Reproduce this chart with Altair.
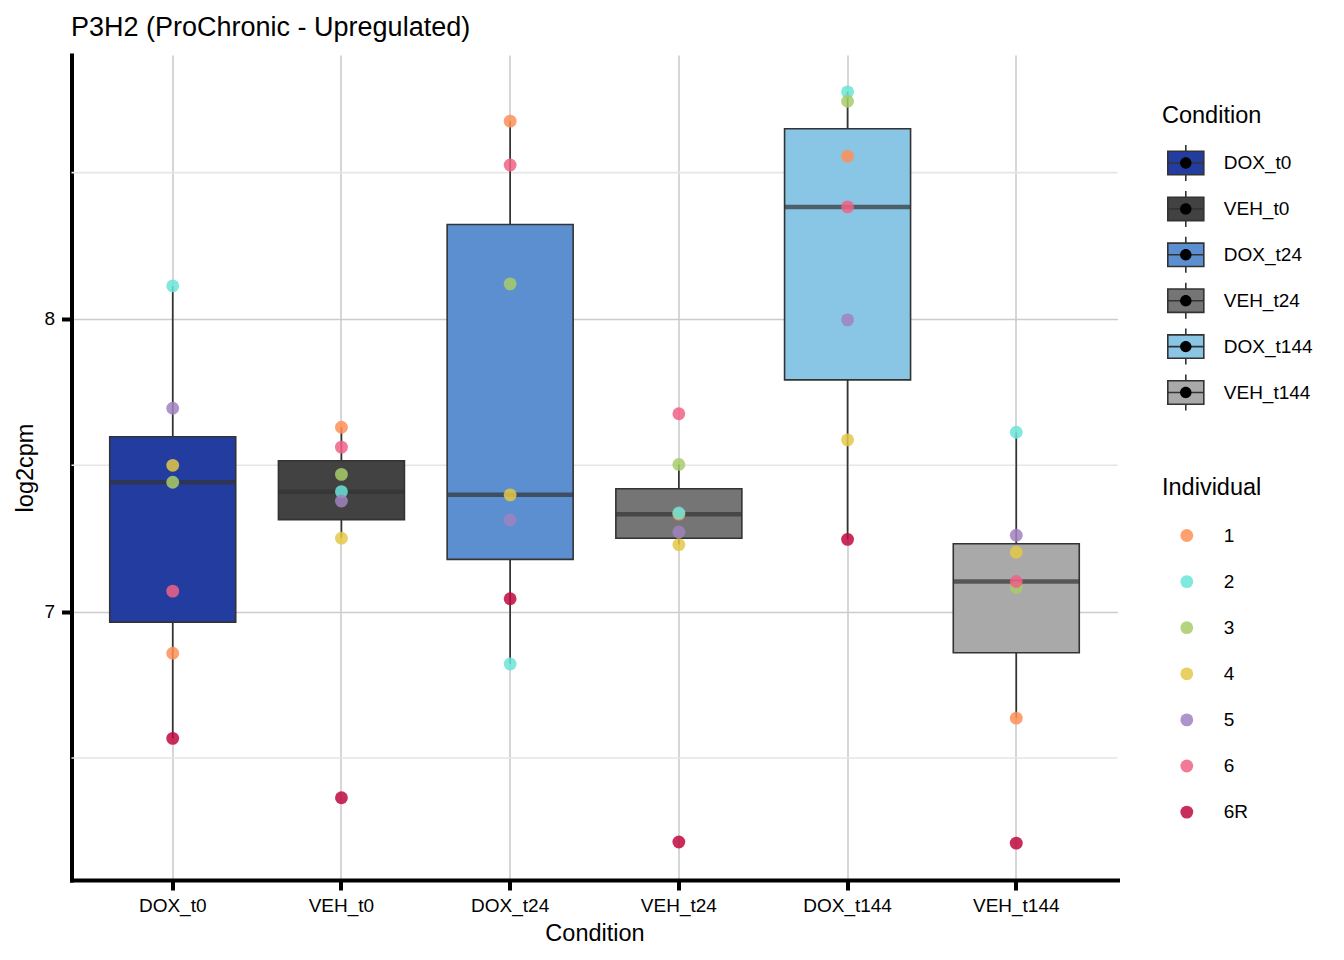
import altair as alt
import pandas as pd

# ---------------- data ----------------
conditions = ["DOX_t0", "VEH_t0", "DOX_t24", "VEH_t24", "DOX_t144", "VEH_t144"]
individuals = ["1", "2", "3", "4", "5", "6", "6R"]

# log2cpm per condition, in the order of `individuals`
dox_t0 = [6.858, 8.113, 7.442, 7.500, 7.695, 7.070, 6.567]
veh_t0 = [7.630, 7.410, 7.469, 7.251, 7.378, 7.562, 6.364]
dox_t24 = [8.676, 6.821, 8.120, 7.399, 7.313, 8.526, 7.044]
veh_t24 = [7.333, 7.337, 7.503, 7.229, 7.272, 7.676, 6.213]
dox_t144 = [8.556, 8.776, 8.744, 7.587, 7.997, 8.383, 7.247]
veh_t144 = [6.636, 7.613, 7.083, 7.203, 7.261, 7.103, 6.209]
series = [dox_t0, veh_t0, dox_t24, veh_t24, dox_t144, veh_t144]

condition_colors = ["#233CA0", "#424242", "#5B8FD0", "#757575", "#89C5E4", "#A9A9A9"]
individual_colors = ["#FF8F57", "#6AE4D6", "#A8CC6A", "#E4C846", "#A082C0", "#F06286", "#C0083F"]

y_ticks = [7, 8]
y_minor = [6.5, 7.5, 8.5]
y_domain = [6.083, 8.902]

rows = []
for cond, vals in zip(conditions, series):
    for ind, v in zip(individuals, vals):
        rows.append({"Condition": cond, "Individual": ind, "log2cpm": v})
df = pd.DataFrame(rows)
minor_df = pd.DataFrame({"v": y_minor})

# ---------------- style ----------------
FONT = "Liberation Sans"
INK = "#333333"

y_scale = alt.Scale(domain=y_domain, nice=False, zero=False)
x_scale = alt.Scale(domain=conditions, paddingInner=0, paddingOuter=0.1)

y_axis = alt.Axis(values=y_ticks, title="log2cpm", grid=True, gridColor="#cccccc", gridWidth=1.6,
                  domainColor="black", domainWidth=4, domainCap="square",
                  tickColor="black", tickWidth=4, tickSize=10,
                  labelFont=FONT, labelFontSize=19, labelColor="black", labelPadding=7,
                  titleFont=FONT, titleFontSize=23.5, titleFontWeight="normal", titleColor="black",
                  titlePadding=6)
x_axis = alt.Axis(title="Condition", labelAngle=0, grid=True, gridColor="#cccccc", gridWidth=1.6,
                  bandPosition=0.5, domainColor="black", domainWidth=4, domainCap="square",
                  tickColor="black", tickWidth=4, tickSize=10,
                  labelFont=FONT, labelFontSize=19, labelColor="black", labelPadding=6,
                  titleFont=FONT, titleFontSize=23.5, titleFontWeight="normal", titleColor="black",
                  titlePadding=6)

box_path = "M-1,-0.65L1,-0.65L1,0.65L-1,0.65Z M0,-1L0,-0.65 M0,0.65L0,1 M-1,0L1,0"
dot_path = ("M-1,0L-1,0 M1,0L1,0 M0,-1L0,-1 M0,1L0,1 "
            "M0.317,0A0.317,0.317,0,1,1,-0.317,0A0.317,0.317,0,1,1,0.317,0Z")

common = dict(orient="none", direction="vertical", columns=1, padding=0,
              labelFont=FONT, labelFontSize=19, labelColor="black",
              titleFont=FONT, titleFontSize=23.5, titleFontWeight="normal", titleColor="black")

cond_legend = alt.Legend(title="Condition", legendX=1090.5, legendY=49, symbolType=box_path,
                         symbolSize=1296, symbolStrokeColor=INK, symbolStrokeWidth=1.6,
                         symbolOffset=4.8, labelOffset=19, rowPadding=1.9, titlePadding=16.5, **common)
dot_legend = alt.Legend(title="Condition", titleOpacity=0, labelOpacity=0, legendX=1090.5, legendY=49,
                        symbolSize=1296, symbolFillColor="black", symbolStrokeColor="black",
                        symbolStrokeWidth=1.6, symbolOpacity=1,
                        symbolOffset=4.8, labelOffset=19, rowPadding=1.9, titlePadding=16.5, **common)
ind_legend = alt.Legend(title="Individual", legendX=1090.5, legendY=421, symbolType="circle",
                        symbolSize=165, symbolStrokeWidth=0, symbolOffset=15.3, labelOffset=27.5,
                        rowPadding=26.1, titlePadding=26.5, **common)

x_enc = alt.X("Condition:N", scale=x_scale, axis=x_axis)

# ---------------- layers ----------------
minor_grid = alt.Chart(minor_df).mark_rule(color="#e5e5e5", strokeWidth=1.6).encode(
    y=alt.Y("v:Q", scale=y_scale, axis=y_axis)
)

whiskers = (
    alt.Chart(df)
    .transform_joinaggregate(q1="q1(log2cpm)", q3="q3(log2cpm)", groupby=["Condition"])
    .transform_calculate(lo="datum.q1 - 1.5 * (datum.q3 - datum.q1)",
                         hi="datum.q3 + 1.5 * (datum.q3 - datum.q1)")
    .transform_filter("datum.log2cpm >= datum.lo && datum.log2cpm <= datum.hi")
    .transform_aggregate(wmin="min(log2cpm)", wmax="max(log2cpm)", groupby=["Condition"])
    .mark_rule(color=INK, strokeWidth=1.7)
    .encode(x=x_enc, y=alt.Y("wmin:Q", scale=y_scale, axis=y_axis), y2="wmax:Q")
)

boxes = (
    alt.Chart(df)
    .transform_aggregate(q1="q1(log2cpm)", q3="q3(log2cpm)", groupby=["Condition"])
    .mark_bar(size=126, stroke=INK, strokeWidth=1.6)
    .encode(
        x=x_enc,
        y=alt.Y("q1:Q", scale=y_scale, axis=y_axis),
        y2="q3:Q",
        fill=alt.Fill("Condition:N", scale=alt.Scale(domain=conditions, range=condition_colors),
                      legend=cond_legend),
    )
)

medians = (
    alt.Chart(df)
    .transform_aggregate(med="median(log2cpm)", groupby=["Condition"])
    .mark_tick(size=126, thickness=4.5, color=INK)
    .encode(x=x_enc, y=alt.Y("med:Q", scale=y_scale, axis=y_axis))
)

points = (
    alt.Chart(df)
    .mark_circle(size=165, opacity=0.85)
    .encode(
        x=x_enc,
        y=alt.Y("log2cpm:Q", scale=y_scale, axis=y_axis),
        color=alt.Color("Individual:N", scale=alt.Scale(domain=individuals, range=individual_colors),
                        legend=ind_legend),
    )
)

legend_dots = (
    alt.Chart(df)
    .transform_calculate(Cond2="datum.Condition")
    .mark_point(filled=True, size=0, color="black")
    .encode(
        x=x_enc,
        y=alt.Y("log2cpm:Q", scale=y_scale, axis=y_axis),
        shape=alt.Shape("Cond2:N", sort=conditions, scale=alt.Scale(range=[dot_path] * 6),
                        legend=dot_legend),
    )
)

chart = (
    alt.layer(minor_grid, whiskers, boxes, medians, points, legend_dots)
    .properties(
        width=1046,
        height=825,
        title=alt.Title("P3H2 (ProChronic - Upregulated)", anchor="start", frame="group",
                        font=FONT, fontSize=27, fontWeight="normal", color="black",
                        baseline="alphabetic", offset=19, dx=-0.5, dy=27),
        autosize=alt.AutoSizeParams(type="none"),
        padding={"left": 63.5, "top": 47, "right": 218, "bottom": 70},
    )
    .configure(font=FONT)
    .configure_view(stroke=None)
)

chart.save("out.html", embed_options={"renderer": "svg", "actions": False})
